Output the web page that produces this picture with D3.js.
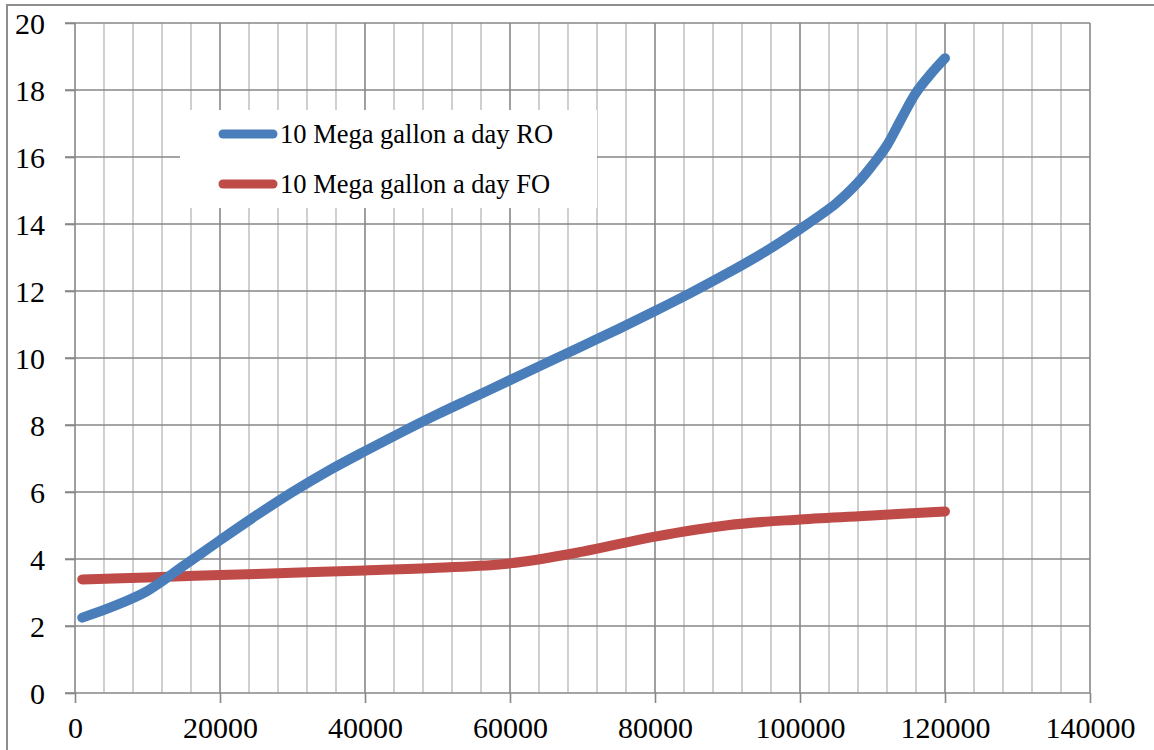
<!DOCTYPE html>
<html>
<head>
<meta charset="utf-8">
<script src="https://cdn.jsdelivr.net/npm/d3@7"></script>
<style>
  html, body { margin: 0; padding: 0; background: #ffffff; }
  svg { display: block; }
</style>
</head>
<body>
<svg id="chart" width="1154" height="750"></svg>
<script>
// ---- data ----
const seriesNames = ["10 Mega gallon a day RO", "10 Mega gallon a day FO"];
const roX = [1000, 5000, 10000, 15000, 20000, 25000, 30000, 35000, 40000, 45000, 50000, 55000, 60000, 65000, 70000, 75000, 80000, 85000, 90000, 95000, 100000, 105000, 108000, 110000, 112000, 114000, 116000, 118000, 120000];
const roY = [2.25, 2.56, 3.05, 3.8, 4.56, 5.3, 6.0, 6.64, 7.22, 7.78, 8.32, 8.83, 9.34, 9.85, 10.36, 10.87, 11.4, 11.95, 12.53, 13.15, 13.85, 14.62, 15.24, 15.76, 16.35, 17.15, 17.92, 18.47, 18.95];
const foX = [1000, 10000, 20000, 30000, 40000, 50000, 60000, 70000, 80000, 90000, 100000, 110000, 120000];
const foY = [3.39, 3.45, 3.52, 3.59, 3.66, 3.74, 3.87, 4.22, 4.67, 5.01, 5.18, 5.30, 5.42];
const xTicks = [0, 20000, 40000, 60000, 80000, 100000, 120000, 140000];
const yTicks = [0, 2, 4, 6, 8, 10, 12, 14, 16, 18, 20];
const xMinorStep = 4000;

(function () {
// ---- layout ----
const svg = d3.select("#chart");
const pL = 75, pR = 1090, pT = 23, pB = 693;
const x = d3.scaleLinear().domain([0, 140000]).range([pL, pR]);
const y = d3.scaleLinear().domain([0, 20]).range([pB, pT]);
const majorCol = "#878787", minorCol = "#c4c4c4";
const serif = "'Liberation Serif', 'Times New Roman', serif";

// outer chart border
svg.append("rect").attr("x", 7).attr("y", 5).attr("width", 1160).attr("height", 760)
  .attr("fill", "none").attr("stroke", "#8e8e8e").attr("stroke-width", 2);

// minor vertical gridlines
const minorXs = d3.range(0, 140001, xMinorStep).filter(v => v % 20000 !== 0);
svg.append("g").selectAll("line").data(minorXs).join("line")
  .attr("x1", d => x(d)).attr("x2", d => x(d))
  .attr("y1", pT).attr("y2", pB)
  .attr("stroke", minorCol).attr("stroke-width", 1.6);

// horizontal major gridlines (extend left as ticks)
svg.append("g").selectAll("line").data(yTicks).join("line")
  .attr("x1", pL - 10).attr("x2", pR)
  .attr("y1", d => y(d)).attr("y2", d => y(d))
  .attr("stroke", majorCol).attr("stroke-width", 1.6);

// major vertical gridlines
svg.append("g").selectAll("line").data(xTicks).join("line")
  .attr("x1", d => x(d)).attr("x2", d => x(d))
  .attr("y1", pT).attr("y2", pB)
  .attr("stroke", majorCol).attr("stroke-width", 1.6);

// axes (tick marks + labels)
const xAxis = svg.append("g").attr("transform", `translate(0,${pB})`)
  .call(d3.axisBottom(x).tickValues(xTicks).tickSize(10).tickSizeOuter(0).tickPadding(14).tickFormat(d3.format("d")));
const yAxis = svg.append("g").attr("transform", `translate(${pL},0)`)
  .call(d3.axisLeft(y).tickValues(yTicks).tickSize(10).tickSizeOuter(0).tickPadding(20).tickFormat(d3.format("d")));
[xAxis, yAxis].forEach(g => {
  g.select(".domain").remove();
  g.selectAll(".tick line").attr("stroke", majorCol).attr("stroke-width", 1.6);
  g.selectAll(".tick text").attr("fill", "#000").style("font-family", serif).style("font-size", "30px");
});
xAxis.selectAll(".tick text").attr("dy", "0.71em");
yAxis.selectAll(".tick text").attr("dy", "0.34em");

// series
const line = d3.line().x(d => x(d[0])).y(d => y(d[1])).curve(d3.curveCatmullRom.alpha(0.5));
const roData = roX.map((v, i) => [v, roY[i]]);
const foData = foX.map((v, i) => [v, foY[i]]);
const colors = ["#4a7ebb", "#be4b48"];
svg.append("path").datum(foData).attr("d", line)
  .attr("fill", "none").attr("stroke", colors[1]).attr("stroke-width", 10)
  .attr("stroke-linecap", "round").attr("stroke-linejoin", "round");
svg.append("path").datum(roData).attr("d", line)
  .attr("fill", "none").attr("stroke", colors[0]).attr("stroke-width", 10)
  .attr("stroke-linecap", "round").attr("stroke-linejoin", "round");

// legend
const lg = svg.append("g");
lg.append("rect").attr("x", 180).attr("y", 110).attr("width", 417).attr("height", 98).attr("fill", "#fff");
const legendYs = [134, 184];
seriesNames.forEach((name, i) => {
  lg.append("line").attr("x1", 223).attr("x2", 273).attr("y1", legendYs[i]).attr("y2", legendYs[i])
    .attr("stroke", colors[i]).attr("stroke-width", 9).attr("stroke-linecap", "round");
  lg.append("text").attr("x", 280).attr("y", legendYs[i] + 9)
    .style("font-family", serif).style("font-size", "26.5px").attr("fill", "#000").text(name);
});
})();
</script>
</body>
</html>
